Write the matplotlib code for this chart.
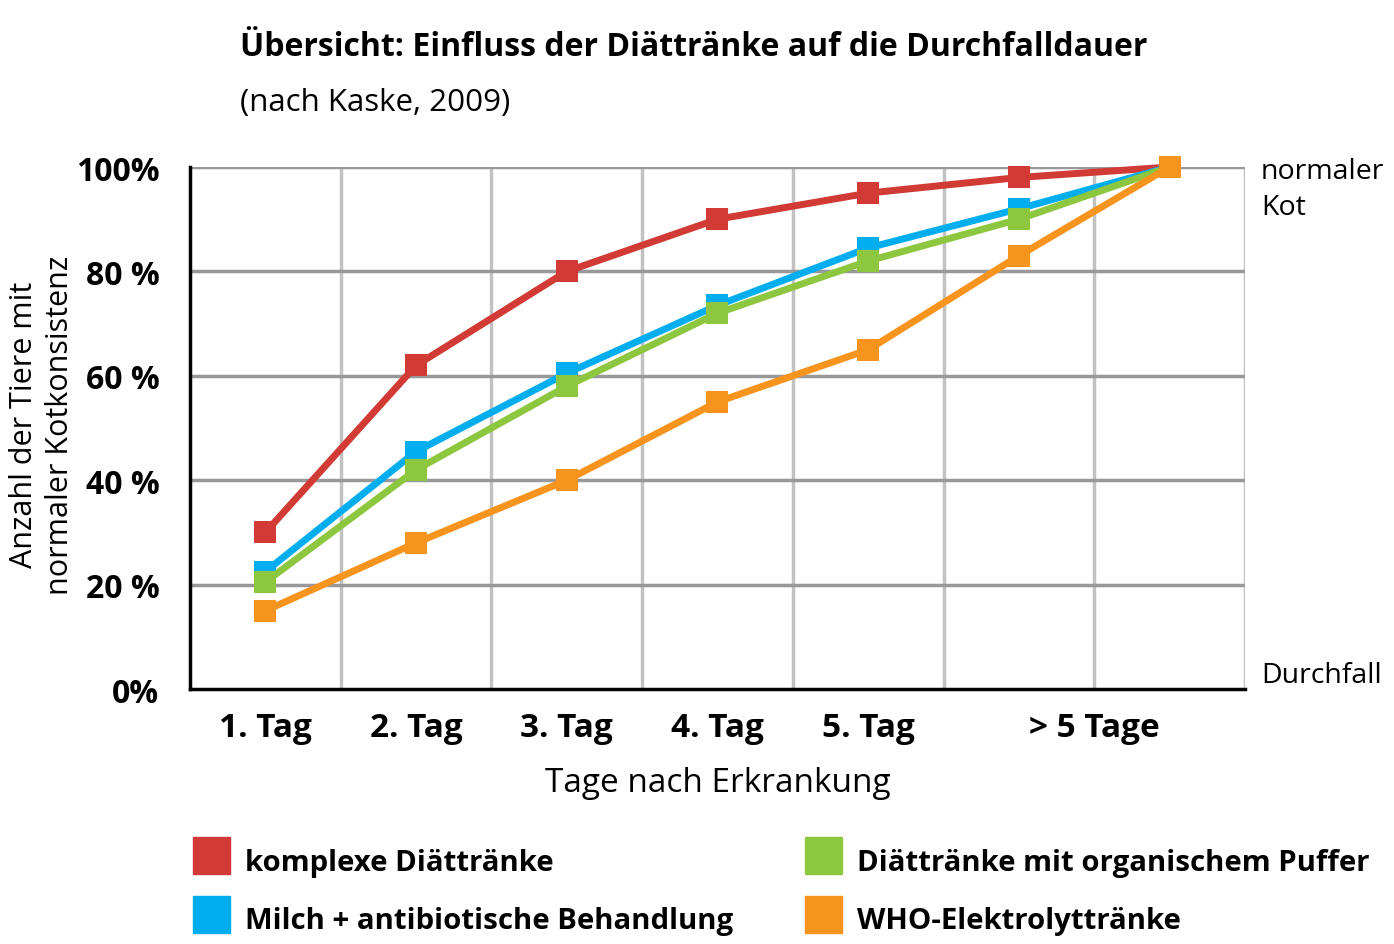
import matplotlib.pyplot as plt
from matplotlib.patches import Rectangle

plt.rcParams['font.family'] = ['Open Sans', 'DejaVu Sans']

# data
days = ['1. Tag', '2. Tag', '3. Tag', '4. Tag', '5. Tag', '> 5 Tage']
x_points = [0.5, 1.5, 2.5, 3.5, 4.5, 5.5, 6.5]
x_label_pos = [0.5, 1.5, 2.5, 3.5, 4.5, 6.0]

series_names = ['komplexe Diättränke', 'Milch + antibiotische Behandlung',
                'Diättränke mit organischem Puffer', 'WHO-Elektrolyttränke']
series_colors = ['#d13a35', '#00aeef', '#8dc63f', '#f7941d']

komplex = [30, 62, 80, 90, 95, 98, 100]
milch = [22.5, 45.5, 60.5, 73.5, 84.5, 92, 100]
puffer = [20.5, 42, 58, 72, 82, 90, 100]
who = [15, 28, 40, 55, 65, 83, 100]
series_values = [komplex, milch, puffer, who]

y_ticks = [0, 20, 40, 60, 80, 100]
y_tick_labels = ['0%', '20 %', '40 %', '60 %', '80 %', '100%']

fig = plt.figure(figsize=(13.94, 9.45), dpi=100)
ax = fig.add_axes([0.1363, 0.2698, 0.7568, 0.5524])

# grid
for xv in range(1, 8):
    ax.axvline(xv, color='#c2c2c2', lw=2.5, zorder=1)
for yv in y_ticks[1:]:
    ax.axhline(yv, color='#98989a', lw=2.5, zorder=1)

for vals, col in zip(series_values, series_colors):
    ax.plot(x_points, vals, color=col, lw=5, marker='s', markersize=16,
            markeredgewidth=0, zorder=3, clip_on=False)

ax.set_xlim(0, 7)
ax.set_ylim(0, 100)
for s in ['top', 'right']:
    ax.spines[s].set_visible(False)
ax.spines['left'].set_linewidth(2.5)
ax.spines['bottom'].set_linewidth(2.5)
ax.spines['left'].set_zorder(4)
ax.spines['bottom'].set_zorder(4)

ax.set_xticks(x_label_pos)
ax.set_xticklabels(days, fontsize=24, fontweight='bold')
ax.set_yticks(y_ticks)
ax.set_yticklabels(y_tick_labels, fontsize=23, fontweight='bold')
ax.tick_params(axis='x', length=0, pad=16)
ax.tick_params(axis='y', length=0, pad=22)

ax.set_xlabel('Tage nach Erkrankung', fontsize=24, labelpad=16)
fig.text(42 / 1394, 1 - 425 / 945, 'Anzahl der Tiere mit\nnormaler Kotkonsistenz',
         fontsize=22, rotation=90, ha='center', va='center', linespacing=1.25)

ax.text(1.015, 1.02, 'normaler\nKot', transform=ax.transAxes, fontsize=20.5,
        va='top', ha='left', linespacing=1.4)
ax.text(1.015, 0.0, 'Durchfall', transform=ax.transAxes, fontsize=20.5,
        va='bottom', ha='left')

fig.text(240 / 1394, 1 - 48 / 945, 'Übersicht: Einfluss der Diättränke auf die Durchfalldauer',
         fontsize=23, fontweight='bold', va='center', ha='left')
fig.text(240 / 1394, 1 - 103 / 945, '(nach Kaske, 2009)', fontsize=22.5,
         va='center', ha='left')

# legend
leg_pos = [(193, 838), (193, 897), (805, 838), (805, 897)]
for (px, py), name, col in zip(leg_pos, series_names, series_colors):
    fig.patches.append(Rectangle((px / 1394, 1 - (py + 37) / 945), 37 / 1394, 37 / 945,
                                 transform=fig.transFigure, color=col))
    fig.text((px + 52) / 1394, 1 - (py + 25) / 945, name, fontsize=21.2,
             fontweight='bold', va='center', ha='left')

fig.savefig('out.png', dpi=100)
